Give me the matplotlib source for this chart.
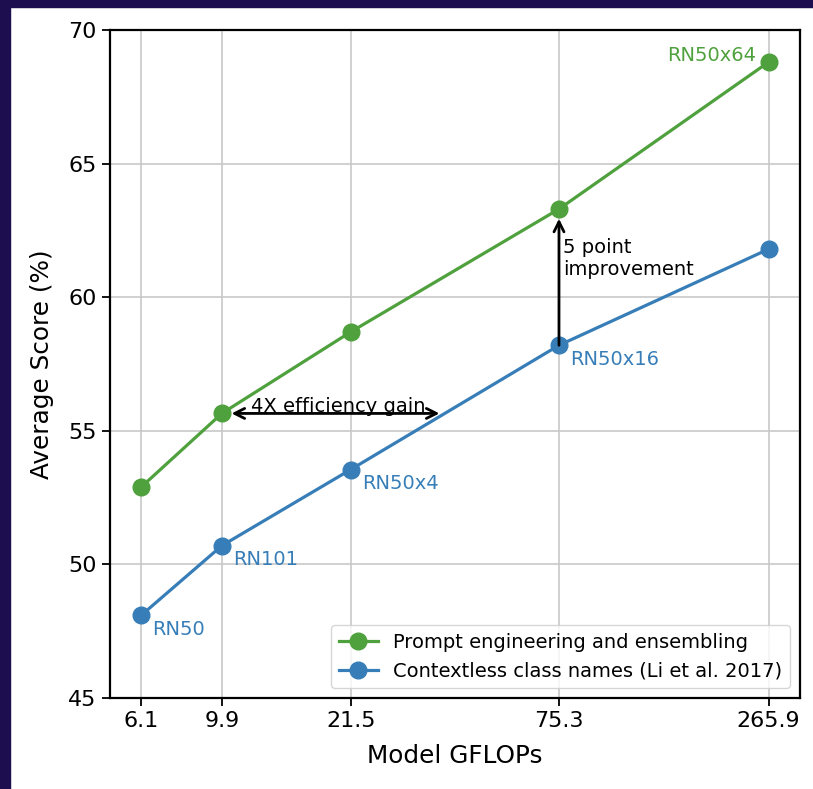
import numpy as np;
import matplotlib;
matplotlib.use('Agg');
import matplotlib.pyplot as plt;
from matplotlib.patches import Rectangle;

FONT_TICK = 16;
FONT_LABEL = 17.8;
FONT_NOTE = 14;

WDTH = 813;
HGHT = 789;
DPI = 100;

GREEN = '#4fa13d';
BLUE = '#377eb8';
NAVY = '#1d0e50';

# data
gflops = [6.1, 9.9, 21.5, 75.3, 265.9];
gflop_labels = ['6.1', '9.9', '21.5', '75.3', '265.9'];
prompt_scores = [52.9, 55.65, 58.7, 63.3, 68.8];
context_scores = [48.1, 50.7, 53.55, 58.2, 61.8];
model_names = ['RN50', 'RN101', 'RN50x4', 'RN50x16', 'RN50x64'];
y_ticks = [45, 50, 55, 60, 65, 70];

eff_start = 9.9;
eff_end = 37.3;
eff_text_x = 20.0;

fig = plt.figure(figsize=(WDTH / DPI, HGHT / DPI), dpi=DPI);
fig.patch.set_facecolor('white');

# dark frame on left and top edge of the screenshot
fig.patches.append(Rectangle((0, 0), 10.0 / WDTH, 1, transform=fig.transFigure, color=NAVY, zorder=0));
fig.patches.append(Rectangle((0, 1 - 7.0 / HGHT), 1, 7.0 / HGHT, transform=fig.transFigure, color=NAVY, zorder=0));

ax = fig.add_axes([110.0 / WDTH, 1 - 698.0 / HGHT, 690.0 / WDTH, 668.0 / HGHT]);
ax.set_xscale('log');

ax.plot(gflops, prompt_scores, '-o', color=GREEN, lw=2.3, ms=12, label='Prompt engineering and ensembling', zorder=3);
ax.plot(gflops, context_scores, '-o', color=BLUE, lw=2.3, ms=12, label='Contextless class names (Li et al. 2017)', zorder=3);

ax.set_ylim(45, 70);
ax.set_yticks(y_ticks);
ax.set_xticks(gflops);
ax.set_xticklabels(gflop_labels);
ax.xaxis.set_minor_locator(matplotlib.ticker.NullLocator());
ax.tick_params(axis='both', which='major', labelsize=FONT_TICK, length=6, width=1.3, direction='out');

ax.grid(True, color='#c8c8c8', lw=1.2);
ax.set_axisbelow(True);
for s in ax.spines.values():
    s.set_linewidth(1.6);

ax.set_xlabel('Model GFLOPs', fontsize=FONT_LABEL, labelpad=9);
ax.set_ylabel('Average Score (%)', fontsize=FONT_LABEL, labelpad=10);

# model names next to the points
for i in range(4):
    ax.annotate(model_names[i], (gflops[i], context_scores[i]), xytext=(8, -10), textcoords='offset points',
                ha='left', va='center', color=BLUE, fontsize=FONT_NOTE);
ax.annotate(model_names[4], (gflops[4], prompt_scores[4]), xytext=(-9, 5), textcoords='offset points',
            ha='right', va='center', color=GREEN, fontsize=FONT_NOTE);

# 5 point improvement
ax.annotate('', xy=(gflops[3], prompt_scores[3]), xytext=(gflops[3], context_scores[3]),
            arrowprops=dict(arrowstyle='->', color='black', lw=2, shrinkA=0, shrinkB=7, mutation_scale=18));
ax.annotate('5 point\nimprovement', (gflops[3], 61.45), xytext=(3, 0), textcoords='offset points',
            ha='left', va='center', fontsize=FONT_NOTE);

# 4X efficiency gain
ax.annotate('', xy=(eff_end, prompt_scores[1]), xytext=(eff_start, prompt_scores[1]),
            arrowprops=dict(arrowstyle='<->', color='black', lw=2, shrinkA=7, shrinkB=2, mutation_scale=18));
ax.annotate('4X efficiency gain', (eff_text_x, prompt_scores[1]), xytext=(0, 1), textcoords='offset points',
            ha='center', va='baseline', fontsize=FONT_NOTE);

ax.legend(loc='lower right', fontsize=FONT_NOTE);

plt.savefig('out.png', dpi=DPI);
